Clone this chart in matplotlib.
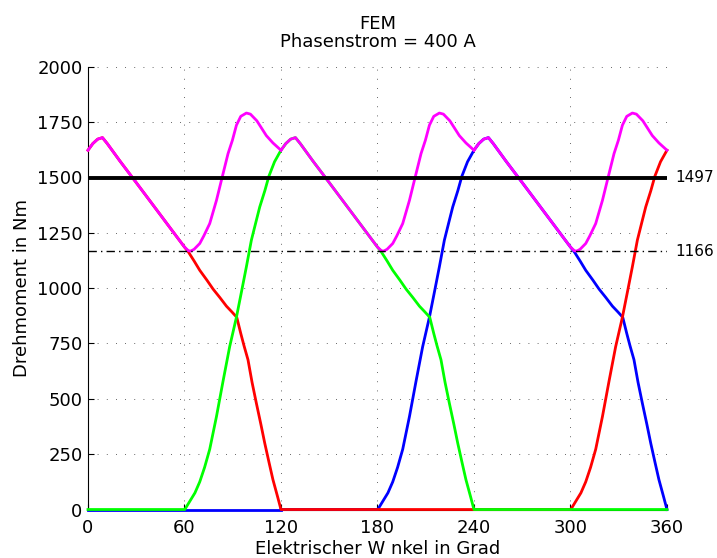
import numpy as np
import matplotlib
matplotlib.use("Agg")
import matplotlib.pyplot as plt

# torque of one phase over one electrical period (phase starts rising at ~60 deg)
phase_deg = np.array([0, 60.2, 63.3, 66.5, 69.5, 72.5, 75.7, 79.9, 84.0, 88.1, 92.3, 95.5, 98.5,
                      101.6, 104.5, 106.8, 110, 112.5, 116, 120,
                      123, 126, 129, 132, 140, 150, 160, 170, 177, 180,
                      182.5, 186, 189.5, 194, 197.8, 202, 206.1, 209.5, 212.5, 215, 217, 219.5,
                      222, 224.7, 227.5, 229.9, 232.5, 235, 238, 240, 360])
phase_nm = np.array([0, 0, 37, 75, 125, 190, 272, 420, 580, 735, 868, 985, 1096,
                     1216, 1300, 1366, 1440, 1505, 1570, 1622,
                     1652, 1672, 1679, 1652, 1572, 1476, 1379, 1282, 1214, 1185,
                     1162, 1122, 1080, 1035, 995, 957, 918, 892, 868, 795, 740, 676,
                     575, 480, 385, 300, 215, 135, 55, 0, 0])

# total torque, repeats every 120 deg
total_deg = np.array([0, 3, 6, 9, 12, 20, 30, 40, 50, 57, 60, 62.5, 64, 66, 69.5, 72, 75.7,
                      79.9, 83.6, 87.1, 89.8, 92.3, 95, 98.5, 101, 105, 110.9, 115, 120])
total_nm = np.array([1622, 1652, 1672, 1679, 1652, 1572, 1476, 1379, 1282, 1214, 1185, 1168,
                     1167, 1175, 1201, 1235, 1291, 1396, 1505, 1607, 1667, 1735, 1775, 1790,
                     1785, 1755, 1688, 1655, 1622])

phase_shift = {"blue": 120, "red": 240, "lime": 0}
mean_torque = 1497
min_torque = 1166

fig = plt.figure(figsize=(7.17, 5.58), dpi=100)
ax = fig.add_axes([0.1227, 0.0869, 0.8075, 0.7939])

for col, sh in phase_shift.items():
    x = phase_deg + sh
    m = x <= 360
    ax.plot(x[m], phase_nm[m], color=col, lw=2.0, clip_on=False, zorder=3)
    m2 = x - 360 >= 0
    ax.plot(x[m2] - 360, phase_nm[m2], color=col, lw=2.0, clip_on=False, zorder=3)

for k in range(3):
    ax.plot(total_deg + 120 * k, total_nm, color="magenta", lw=2.0, clip_on=False, zorder=4)

ax.plot([0, 360], [mean_torque, mean_torque], color="black", lw=2.8, zorder=5)
ax.plot([0, 360], [min_torque, min_torque], color="black", lw=1.0, ls=(0, (6, 3, 1, 3)), zorder=5)
ax.text(365, mean_torque, str(mean_torque), fontsize=11, va="center", ha="left")
ax.text(365, min_torque, str(min_torque), fontsize=11, va="center", ha="left")

ax.set_xlim(0, 360)
ax.set_ylim(0, 2000)
ax.set_xticks(range(0, 361, 60))
ax.set_yticks(range(0, 2001, 250))
ax.grid(True, color="black", ls=(0, (1, 10)), lw=0.6, alpha=0.8)
ax.set_axisbelow(True)
ax.spines["top"].set_visible(False)
ax.spines["right"].set_visible(False)
ax.tick_params(direction="in", length=4, labelsize=13)
ax.tick_params(axis="x", pad=7)
ax.tick_params(axis="y", pad=4)

ax.set_xlabel("Elektrischer W nkel in Grad", fontsize=13, labelpad=2)
ax.set_ylabel("Drehmoment in Nm", fontsize=13)
ax.set_title("FEM\nPhasenstrom = 400 A", fontsize=13, pad=14, linespacing=1.0)

fig.savefig("out.png", dpi=100)
